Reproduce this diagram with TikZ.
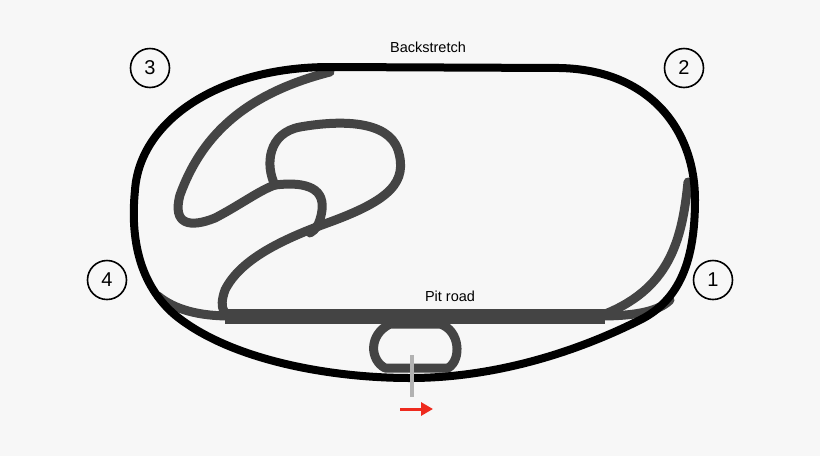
\documentclass[tikz,border=0pt]{standalone}
\usepackage{fontspec}
\usetikzlibrary{arrows.meta}
\setmainfont{Liberation Sans}
\definecolor{bg}{HTML}{F7F7F7}
\definecolor{road}{HTML}{444444}
\definecolor{arr}{HTML}{EE2A1E}
\begin{document}
\begin{tikzpicture}[x=1pt,y=-1pt,
  turn/.style={circle,draw=black,line width=1.6pt,minimum size=39pt,inner sep=0pt,font=\fontsize{20}{21}\selectfont},
  lbl/.style={font=\fontsize{14.5}{15}\selectfont},
  outer/.style={draw=black,line width=8pt,line cap=round,line join=round},
  gr/.style={draw=road,line width=9pt,line cap=round,line join=round}]
\fill[bg] (0,0) rectangle (820,456);
\useasboundingbox (0,0) rectangle (820,456);
% pit road band
\draw[road,line width=15pt] (225,316) -- (605,316);
\draw[gr] (158,296) .. controls (175,310) and (200,316) .. (230,316);
\draw[gr] (600,316) .. controls (640,316) and (660,310) .. (670,300);
\draw[gr] (688,182) .. controls (682,240) and (670,290) .. (600,316);
% infield road
\draw[gr] (330,72) .. controls (240,95) and (200,140) .. (180,195) .. controls (172,225) and (190,228) .. (215,218) .. controls (240,205) and (260,190) .. (275,185);
\draw[gr] (275,185) .. controls (265,165) and (268,133) .. (300,127) .. controls (340,120) and (388,120) .. (398,150) .. controls (408,182) and (390,200) .. (330,222) .. controls (280,240) and (240,260) .. (225,290) .. controls (218,310) and (225,316) .. (235,316);
\draw[gr] (275,185) .. controls (300,182) and (325,185) .. (322,210) .. controls (320,225) and (315,230) .. (310,233);
% lower loop
\draw[gr] (390,324) -- (440,324) .. controls (460,330) and (462,360) .. (448,368) -- (385,368) .. controls (370,360) and (368,335) .. (390,324) -- cycle;
% outer track
\draw[outer] (330,67) -- (560,68) .. controls (650,70) and (695,130) .. (695,200) .. controls (695,260) and (680,300) .. (640,320) .. controls (560,360) and (480,378) .. (410,378) .. controls (330,378) and (230,360) .. (175,315) .. controls (140,285) and (130,240) .. (135,190) .. controls (140,120) and (220,67) .. (330,67) -- cycle;
% start marker
\draw[gray!60,line width=4pt] (412,355) -- (412,397);
\draw[arr,line width=3pt,-{Triangle[length=12pt,width=13pt]}] (400,409) -- (433,409);
% labels
\node[lbl] (bs) at (428,47) {Backstretch};
\node[lbl] (pr) at (450,296) {Pit road};
\node[turn] (t3) at (150,68) {3};
\node[turn] (t2) at (684,68) {2};
\node[turn] (t4) at (107,280) {4};
\node[turn] (t1) at (713,280) {1};
\end{tikzpicture}
\end{document}
